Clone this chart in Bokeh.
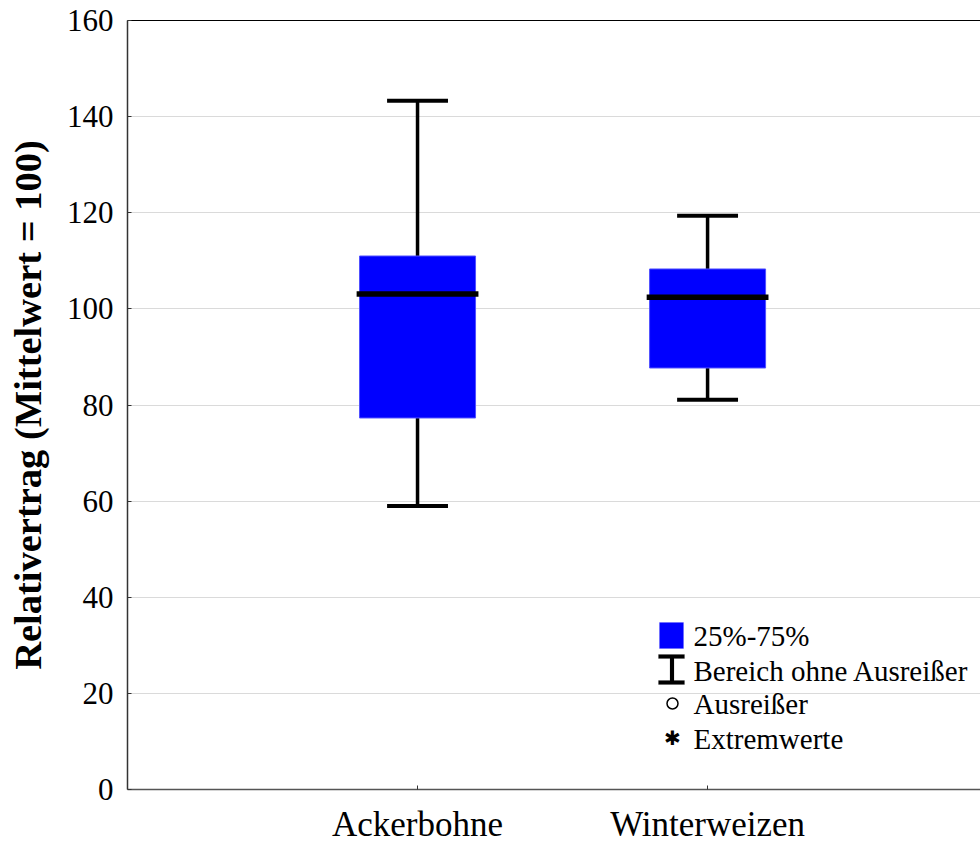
from bokeh.plotting import figure
from bokeh.models import (ColumnDataSource, Range1d, FixedTicker, LinearAxis,
                          BoxAnnotation, PolyAnnotation, Label)
from bokeh.embed import file_html
from bokeh.resources import INLINE

# ---- data ----
categories = ["Ackerbohne", "Winterweizen"]
lower = [59.0, 81.1]
q1 = [77.3, 87.7]
median = [103.1, 102.4]
q3 = [111.0, 108.3]
upper = [143.3, 119.4]
y_ticks = [0, 20, 40, 60, 80, 100, 120, 140, 160]
legend_labels = ["25%-75%", "Bereich ohne Ausreißer", "Ausreißer", "Extremwerte"]

FONT = "Liberation Serif"
BOX_W = 0.40
CAP_W = 0.21

xs = [i + 1 for i in range(len(categories))]
src = ColumnDataSource(dict(
    x=xs, lower=lower, q1=q1, median=median, q3=q3, upper=upper,
    cap_l=[x - CAP_W / 2 for x in xs], cap_r=[x + CAP_W / 2 for x in xs],
    med_l=[x - BOX_W / 2 - 0.01 for x in xs], med_r=[x + BOX_W / 2 + 0.01 for x in xs],
))

FRAME_L, FRAME_T, FRAME_B = 127, 20, 789
p = figure(width=980, height=846,
           x_range=Range1d(0, 2.941), y_range=Range1d(0, 160),
           output_backend="svg", toolbar_location=None,
           min_border_left=FRAME_L, min_border_right=0,
           min_border_top=FRAME_T, min_border_bottom=846 - FRAME_B)
p.outline_line_color = None
p.background_fill_color = "white"
p.border_fill_color = "white"
p.xgrid.visible = False
p.ygrid.grid_line_color = "#dadada"
p.ygrid.grid_line_width = 1
p.ygrid.ticker = FixedTicker(ticks=y_ticks)

# axes
p.xaxis.ticker = FixedTicker(ticks=xs)
p.xaxis.major_label_overrides = {x: c for x, c in zip(xs, categories)}
p.yaxis.ticker = FixedTicker(ticks=y_ticks)
for ax in (p.xaxis[0], p.yaxis[0]):
    ax.axis_line_color = "#555555"
    ax.axis_line_width = 1.5
    ax.major_tick_line_color = "#333333"
    ax.major_tick_in = 4
    ax.major_tick_out = 0
    ax.minor_tick_line_color = None
    ax.major_label_text_font = FONT
    ax.major_label_text_color = "black"
p.xaxis.major_label_text_font_size = "35px"
p.xaxis.major_label_standoff = 15
p.yaxis.major_label_text_font_size = "31px"
p.yaxis.major_label_standoff = 14
p.yaxis.axis_line_color = "#333333"
p.yaxis.axis_label = "Relativertrag (Mittelwert = 100)"
p.yaxis.axis_label_text_font = FONT
p.yaxis.axis_label_text_font_size = "38.5px"
p.yaxis.axis_label_text_font_style = "bold"
p.yaxis.axis_label_text_color = "black"
p.yaxis.axis_label_standoff = 15

top_axis = LinearAxis(ticker=FixedTicker(ticks=[]), major_label_text_font_size="0px",
                      axis_line_color="black", axis_line_width=1.2,
                      major_tick_line_color=None, minor_tick_line_color=None)
p.add_layout(top_axis, "above")

# whiskers
p.segment(x0="x", y0="lower", x1="x", y1="upper", source=src, line_color="black", line_width=3.5)
p.vbar(x="x", width=BOX_W, bottom="q1", top="q3", source=src,
       fill_color="#0000FF", line_color="#5050ff", line_width=1)
p.segment(x0="med_l", y0="median", x1="med_r", y1="median", source=src, line_color="black", line_width=5.5)
p.segment(x0="cap_l", y0="upper", x1="cap_r", y1="upper", source=src, line_color="black", line_width=4)
p.segment(x0="cap_l", y0="lower", x1="cap_r", y1="lower", source=src, line_color="black", line_width=4)

# ---- manual legend (screen units, frame-relative, y up) ----
def fx(px):
    return px - FRAME_L

def fy(py):
    return FRAME_B - py

p.add_layout(BoxAnnotation(left=fx(659), right=fx(683), top=fy(622), bottom=fy(648),
                           left_units="screen", right_units="screen",
                           top_units="screen", bottom_units="screen",
                           fill_color="#0000FF", fill_alpha=1, line_color="#5050ff", line_width=1))
beam_x = [658, 684, 684, 673.5, 673.5, 684, 684, 658, 658, 669.5, 669.5, 658]
beam_y = [654, 654, 658, 658, 680, 680, 684, 684, 680, 680, 658, 658]
p.add_layout(PolyAnnotation(xs=[fx(v) for v in beam_x], ys=[fy(v) for v in beam_y],
                            xs_units="screen", ys_units="screen",
                            fill_color="black", fill_alpha=1, line_color="black", line_width=0.5))
p.add_layout(BoxAnnotation(left=fx(666.5), right=fx(677.5), top=fy(697.5), bottom=fy(708.5),
                           left_units="screen", right_units="screen",
                           top_units="screen", bottom_units="screen",
                           border_radius=6, fill_color=None, line_color="black",
                           line_alpha=1, line_width=1.5))
p.add_layout(Label(x=fx(672), y=fy(737.5), x_units="screen", y_units="screen", text="✱",
                   text_font="DejaVu Sans", text_font_size="20px", text_color="black",
                   text_align="center", text_baseline="middle"))
for lab, cy in zip(legend_labels, [635, 670, 703, 738]):
    p.add_layout(Label(x=fx(693), y=fy(cy), x_units="screen", y_units="screen", text=lab,
                       text_font=FONT, text_font_size="29px", text_color="black",
                       text_align="left", text_baseline="middle"))

open("out.html", "w").write(file_html(p, INLINE))
